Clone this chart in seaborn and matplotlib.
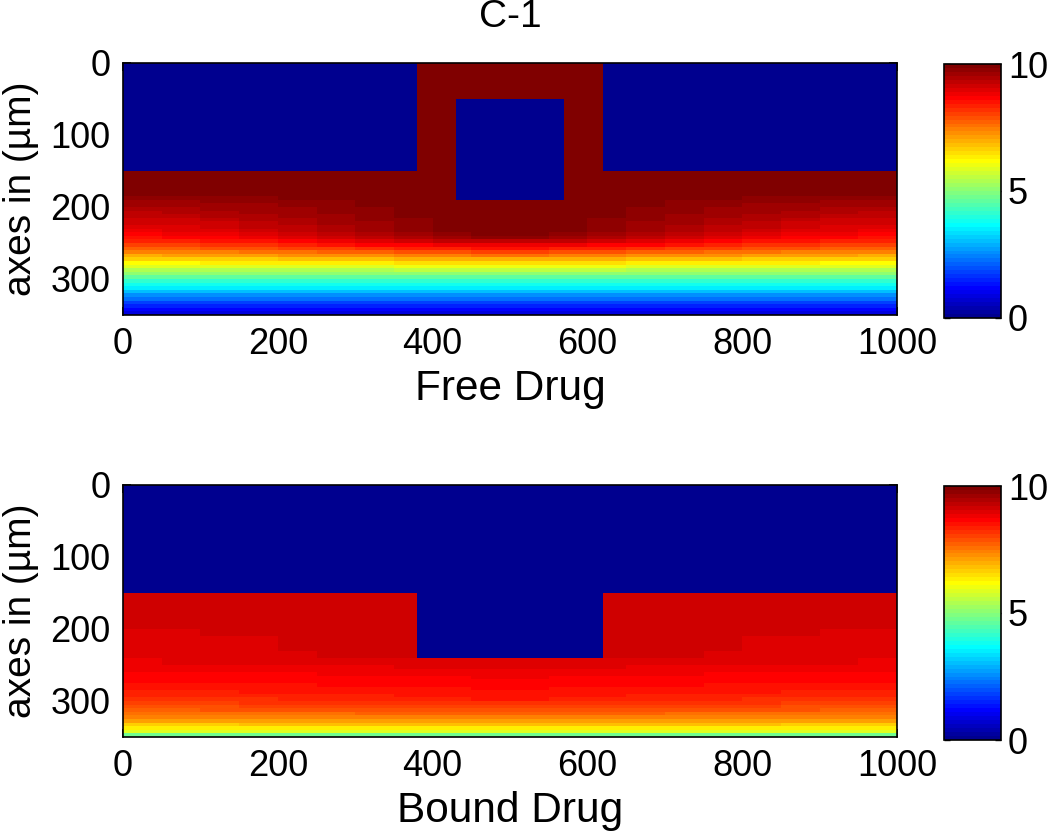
import numpy as np
import matplotlib
matplotlib.use("Agg")
import matplotlib.pyplot as plt
import seaborn as sns
from matplotlib.colors import ListedColormap

# ---------------- text / ticks ----------------
title = "C-1"
panel_labels = ["Free Drug", "Bound Drug"]
y_label = "axes in (µm)"
x_ticks = [0, 200, 400, 600, 800, 1000]
y_ticks = [0, 100, 200, 300]
cbar_ticks = [0, 5, 10]

# ---------------- domain (µm) ----------------
width_um = 1000
depth_um = 350
cell_x = 10          # grid cell width (µm)
cell_y = 5           # grid cell height (µm)
surface_depth = 150  # tissue starts at this depth
ring_x = [380, 620]          # free drug: device ring (x-range)
ring_depth = 190
inner_x = [430, 570]         # free drug: empty core of device
inner_depth = [50, 190]
notch_x = [380, 620]         # bound drug: device region (no binding)
notch_depth = 240
device_value = 10

# ---------------- depth profiles (150-350 µm, every 5 µm) ----------------
free_edge = [10, 10, 10, 10, 9.95, 9.9, 9.85, 9.75,
             9.65, 9.55, 9.45, 9.35, 9.25, 9.15, 9.05, 8.95, 8.85, 8.7,
             8.5, 8.3, 8.0, 7.7, 7.35, 7.0, 6.6, 6.2, 5.8, 5.4,
             5.0, 4.6, 4.2, 3.85, 3.45, 3.05, 2.65, 2.25, 1.85, 1.45, 1.1, 0.8]
free_center = [10, 10, 10, 10, 10, 10, 10, 10, 10,
               10, 10, 10, 10, 10, 10, 10, 10, 9.9,
               9.7, 9.3, 8.9, 8.5, 8.0, 7.5, 7.0, 6.5, 6.0, 5.5,
               5.0, 4.6, 4.2, 3.85, 3.45, 3.05, 2.65, 2.25, 1.85, 1.45, 1.1, 0.8]
bound_edge = [9.2, 9.2, 9.2, 9.2, 9.2, 9.2, 9.2, 9.2, 9.2, 9.1,
              9.05, 9.05, 9.0, 9.0, 9.0, 9.0, 8.95, 8.95, 8.9, 8.9,
              8.8, 8.75, 8.7, 8.65, 8.6, 8.55, 8.5, 8.4, 8.3, 8.2,
              8.1, 7.95, 7.8, 7.6, 7.35, 7.05, 6.7, 6.3, 5.8, 4.8]
bound_center = [9.2, 9.2, 9.2, 9.2, 9.2, 9.2, 9.2, 9.2, 9.2,
                9.2, 9.2, 9.2, 9.2, 9.2, 9.2, 9.2, 9.2, 9.2,
                9.0, 9.0, 8.95, 8.9,
                8.8, 8.75, 8.7, 8.65, 8.6, 8.55, 8.5, 8.45,
                8.2, 8.05, 7.9, 7.7, 7.45, 7.15, 6.8, 6.35, 5.85, 4.8]
# lateral weight of the centre profile, per 50 µm block (0-1000 µm)
lateral_weight = [0.02, 0.08, 0.17, 0.28, 0.40, 0.53, 0.66, 0.80, 0.92, 1.0,
                  1.0, 0.92, 0.80, 0.66, 0.53, 0.40, 0.28, 0.17, 0.08, 0.02]


def matlab_jet(m=64):
    n = int(np.ceil(m / 4))
    u = np.concatenate([np.arange(1, n + 1) / n, np.ones(n - 1), np.arange(n, 0, -1) / n])
    g = int(np.ceil(n / 2)) - (1 if m % 4 == 1 else 0) + np.arange(1, len(u) + 1)
    r = g + n
    b = g - n
    J = np.zeros((m, 3))
    for idx, ch in ((r, 0), (g, 1), (b, 2)):
        ok = (idx >= 1) & (idx <= m)
        J[idx[ok] - 1, ch] = u[ok]
    return ListedColormap(J)


cmap = matlab_jet(64)

nrows = depth_um // cell_y
ncols = width_um // cell_x
depth_mid = (np.arange(nrows) + 0.5) * cell_y
x_mid = (np.arange(ncols) + 0.5) * cell_x
w = np.repeat(np.array(lateral_weight), ncols // len(lateral_weight))
s0 = surface_depth // cell_y
D, X = np.meshgrid(depth_mid, x_mid, indexing="ij")


def build(edge, center):
    grid = np.zeros((nrows, ncols))
    e = np.array(edge)[:, None]
    c = np.array(center)[:, None]
    grid[s0:, :] = e + w[None, :] * (c - e)
    return grid


free = build(free_edge, free_center)
free[(X > ring_x[0]) & (X < ring_x[1]) & (D < ring_depth)] = device_value
free[(X > inner_x[0]) & (X < inner_x[1]) & (D > inner_depth[0]) & (D < inner_depth[1])] = 0

bound = build(bound_edge, bound_center)
bound[(X > notch_x[0]) & (X < notch_x[1]) & (D < notch_depth)] = 0

# ---------------- figure ----------------
sns.set_style("white")
plt.rcParams["font.family"] = ["Liberation Sans", "DejaVu Sans"]
plt.rcParams.update({"text.color": "black", "axes.labelcolor": "black",
                     "xtick.color": "black", "ytick.color": "black",
                     "axes.edgecolor": "black"})
W, H = 1050, 836
fig = plt.figure(figsize=(W / 100, H / 100), dpi=100)


def fa(l, t, r, b):
    return [l / W, 1 - b / H, (r - l) / W, (b - t) / H]


axes = [fig.add_axes(fa(123, 63, 897, 315)), fig.add_axes(fa(123, 485, 897, 737))]
caxes = [fig.add_axes(fa(944, 64, 1001, 318)), fig.add_axes(fa(944, 486, 1001, 740))]

for ax, cax, data, lab in zip(axes, caxes, [free, bound], panel_labels):
    sns.heatmap(data, ax=ax, cbar_ax=cax, cmap=cmap, vmin=0, vmax=10,
                xticklabels=False, yticklabels=False, rasterized=True)
    ax.set_xticks(np.array(x_ticks) / cell_x)
    ax.set_xticklabels([str(t) for t in x_ticks])
    ax.set_yticks(np.array(y_ticks) / cell_y)
    ax.set_yticklabels([str(t) for t in y_ticks], rotation=0)
    ax.tick_params(direction="in", length=6, width=1.2, color="black",
                   labelcolor="black", top=True, right=True, bottom=True, left=True,
                   labelsize=26, pad=9)
    for sp in ax.spines.values():
        sp.set_visible(True)
        sp.set_color("black")
        sp.set_linewidth(1.2)
    ax.set_xlabel(lab, fontsize=30.5, labelpad=5, color="black")
    ax.set_ylabel(y_label, fontsize=28, labelpad=8, color="black")
    cb = ax.collections[0].colorbar
    cb.set_ticks(cbar_ticks)
    cb.set_ticklabels([str(t) for t in cbar_ticks])
    cb.outline.set_visible(True)
    cb.outline.set_linewidth(1.2)
    cb.outline.set_edgecolor("black")
    cax.tick_params(direction="in", length=4, width=1, left=True, right=True,
                    color="black", labelcolor="black", labelsize=26, pad=5)

axes[0].set_title(title, fontsize=28, pad=26, color="black")

fig.savefig("out.png", dpi=100)
